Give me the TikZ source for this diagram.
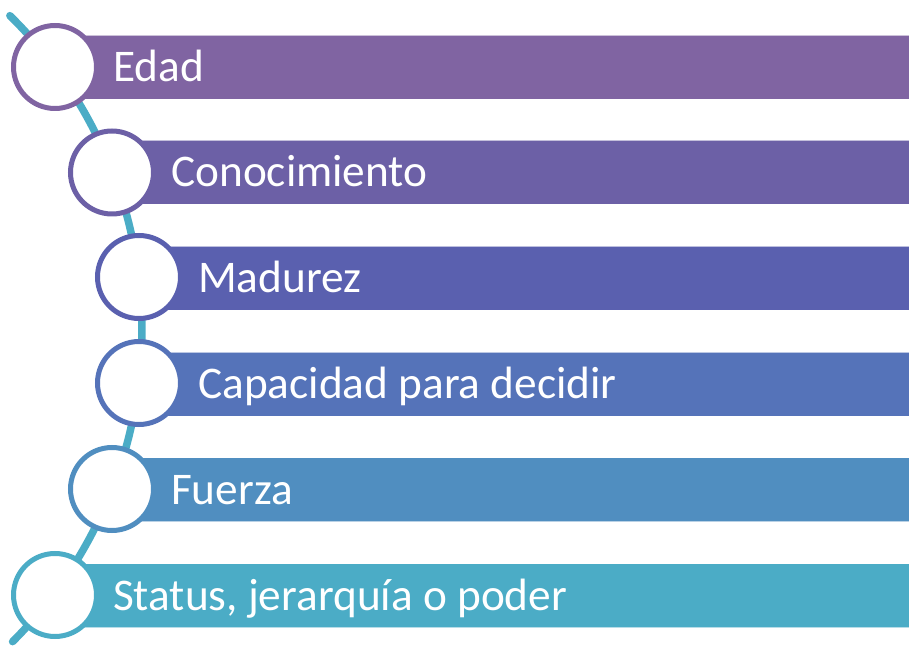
\documentclass[tikz,border=0pt]{standalone}
\usepackage{fontspec}
\setmainfont{Carlito}
\definecolor{colA}{HTML}{8064A2}
\definecolor{colB}{HTML}{6C60A6}
\definecolor{colC}{HTML}{5A60AF}
\definecolor{colD}{HTML}{5573B9}
\definecolor{colE}{HTML}{508EC0}
\definecolor{colF}{HTML}{4BACC6}
\tikzset{
  barbox/.style={draw=white, draw opacity=0.6, line width=0.6pt, fill=#1},
  ringnode/.style={circle, draw=#1, line width=5pt, fill=white, minimum size=83pt, inner sep=0pt},
  label/.style={anchor=base west, inner sep=0pt, text=white, font=\fontsize{45.3}{52}\selectfont}
}
\begin{document}
\begin{tikzpicture}[x=1pt,y=1pt]
\useasboundingbox (0,0) rectangle (909,648);
% connecting arc
\draw[colF, line width=7.5pt, line cap=round] ({-298+440*cos(45.6)},{318+440*sin(45.6)}) arc[start angle=45.6, end angle=-45.1, radius=440];
% bars
\foreach \cx/\cy/\col [count=\i] in {55/581/colA,112/475.5/colB,139/369.5/colC,139/264/colD,112/158.5/colE,55/52.5/colF}{
  \path[barbox=\col] (\cx,\cy-32) rectangle (909.5,\cy+32);
}
% rings
\node[ringnode=colA] (c1) at (55,581) {};
\node[ringnode=colB] (c2) at (112,475.5) {};
\node[ringnode=colC] (c3) at (139,371) {};
\node[ringnode=colD] (c4) at (139,265) {};
\node[ringnode=colE] (c5) at (112,159) {};
\node[ringnode=colF] (c6) at (55,53) {};
% labels
\node[label] (t1) at (113,566.5) {Edad};
\node[label] (t2) at (171,461) {Conocimiento};
\node[label] (t3) at (198,355) {Madurez};
\node[label] (t4) at (198,249.5) {Capacidad para decidir};
\node[label] (t5) at (171,144) {Fuerza};
\node[label] (t6) at (113,38) {Status, jerarquía o poder};
\end{tikzpicture}
\end{document}
